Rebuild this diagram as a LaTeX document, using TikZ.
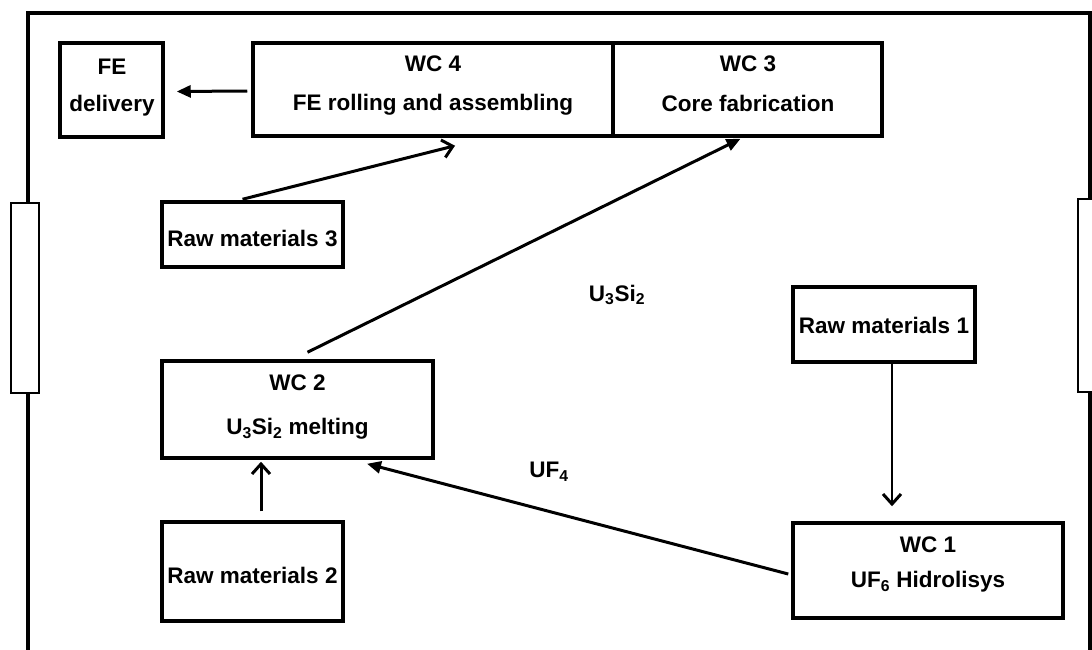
\documentclass[tikz,border=0pt]{standalone}
\usepackage{fontspec}
\setmainfont{Liberation Sans}
\usetikzlibrary{arrows.meta}
\tikzset{
  box/.style={draw, line width=3.5pt, fill=white, inner sep=0pt},
  txt/.style={font=\bfseries\fontsize{22.5}{26}\selectfont, inner sep=0pt, anchor=center},
  flow/.style={line width=3pt, -{Triangle[length=14pt,width=12pt]}},
  feed/.style={line width=3pt, -{Straight Barb[length=10pt,width=18pt,line width=3pt]}},
  door/.style={draw, line width=2pt, fill=white},
}
\begin{document}
\begin{tikzpicture}[x=1pt,y=-1pt]
\useasboundingbox (0,0) rectangle (1092,650);
\fill[white] (0,0) rectangle (1092,650);
% outer frame
\draw[line width=4.5pt] (28,660) -- (28,13) -- (1090,13) -- (1090,660);
\node[door, minimum width=28pt, minimum height=190pt, inner sep=0pt] (doorL) at (25,298) {};
\node[door, minimum width=30pt, minimum height=193pt, inner sep=0pt] (doorR) at (1093,295.5) {};
% boxes
\node[box, minimum width=103pt, minimum height=94pt] (fe) at (111.5,90) {};
\node[box, minimum width=360pt, minimum height=93pt] (wc4) at (433,89.5) {};
\node[box, minimum width=269pt, minimum height=93pt] (wc3) at (747.5,89.5) {};
\node[box, minimum width=181pt, minimum height=65pt] (rm3) at (252.5,234.5) {};
\node[box, minimum width=271pt, minimum height=97pt] (wc2) at (297.5,409.5) {};
\node[box, minimum width=181pt, minimum height=99pt] (rm2) at (252.5,571.5) {};
\node[box, minimum width=182pt, minimum height=75pt] (rm1) at (884,324.5) {};
\node[box, minimum width=270pt, minimum height=95pt] (wc1) at (928,570.5) {};
% texts
\node[txt] (feT1) at (112,67) {FE};
\node[txt] (feT2) at (112,106) {delivery};
\node[txt] (wc4T1) at (433,64) {WC 4};
\node[txt] (wc4T2) at (433,105) {FE rolling and assembling};
\node[txt] (wc3T1) at (748,64) {WC 3};
\node[txt] (wc3T2) at (748,103) {Core fabrication};
\node[txt] (rm3T) at (252.5,238) {Raw materials 3};
\node[txt] (wc2T1) at (297.5,383) {WC 2};
\node[txt] (wc2T2) at (297.5,429) {U\textsubscript{3}Si\textsubscript{2} melting};
\node[txt] (rm2T) at (252.5,575) {Raw materials 2};
\node[txt] (rm1T) at (884,325) {Raw materials 1};
\node[txt] (wc1T1) at (928,545) {WC 1};
\node[txt] (wc1T2) at (928,582) {UF\textsubscript{6} Hidrolisys};
\node[txt] (lU) at (617,295) {U\textsubscript{3}Si\textsubscript{2}};
\node[txt] (lUF) at (549,472) {UF\textsubscript{4}};
% connectors
\draw[flow] ([xshift=-4pt,yshift=-1.5pt]wc4.west) -- ([xshift=12pt,yshift=-1.5pt]fe.east);
\draw[feed] ([xshift=-10pt,yshift=1pt]rm3.north) -- ([xshift=22pt,yshift=-8pt]wc4.south);
\draw[flow] ([xshift=10pt,yshift=7pt]wc2.north) -- ([xshift=-7pt,yshift=-1pt]wc3.south);
\draw[feed] ([xshift=8.5pt,yshift=9pt]rm2.north) -- ([xshift=-36.5pt,yshift=-2pt]wc2.south);
\draw[flow] ([xshift=-3pt,yshift=-3.5pt]wc1.west) -- ([xshift=69.5pt,yshift=-4pt]wc2.south);
\draw[feed, line width=1.8pt] ([xshift=8pt]rm1.south) -- ([xshift=-36pt,yshift=15pt]wc1.north);
\end{tikzpicture}
\end{document}
